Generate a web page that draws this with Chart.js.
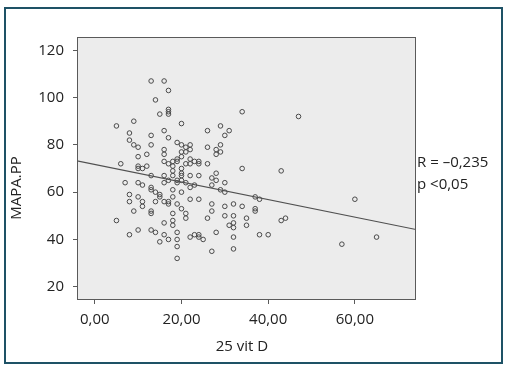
<!DOCTYPE html>
<html>
<head>
<meta charset="utf-8">
<script src="https://cdn.jsdelivr.net/npm/chart.js@4.4.1/dist/chart.umd.min.js"></script>
<style>
  body { margin: 0; background: #fff; }
  #wrap { position: relative; width: 513px; height: 370px; }
  #frame {
    position: absolute; left: 4px; top: 7px; width: 499px; height: 357px;
    box-sizing: border-box; border: 2px solid #1e5266; pointer-events: none;
  }
</style>
</head>
<body>
<div id="wrap">
  <canvas id="scatterChart" width="513" height="370"></canvas>
  <div id="frame"></div>
</div>
<script>
// 25 vit D (x) and MAPA.PP (y)
var vitD = [13, 16, 17, 14, 15, 17, 17, 17, 34, 47, 5, 9, 20, 29, 26, 31, 16, 8, 13, 30,
    17, 8, 9, 10, 13, 19, 20, 22, 21, 22, 21, 20, 16, 16, 26, 28, 29, 29, 28, 12,
    10, 20, 22, 19, 19, 16, 18, 23, 24, 24, 21, 22, 17, 18, 26, 6, 12, 10, 10, 11,
    20, 34, 43, 18, 20, 20, 28, 13, 16, 18, 22, 24, 27, 28, 17, 19, 20, 16, 19, 21,
    7, 10, 11, 30, 23, 22, 27, 13, 13, 14, 18, 29, 30, 20, 8, 15, 15, 18, 37, 38,
    60, 10, 22, 24, 8, 11, 14, 16, 17, 17, 19, 27, 32, 34, 30, 11, 20, 37, 37, 9,
    13, 13, 27, 18, 21, 21, 30, 32, 35, 26, 18, 5, 43, 44, 16, 32, 31, 35, 18, 32,
    10, 13, 14, 19, 28, 8, 16, 23, 24, 22, 24, 25, 32, 38, 40, 65, 17, 19, 15, 57,
    19, 32, 27, 19];
var mapaPP = [107, 107, 103, 99, 93, 95, 94, 93, 94, 92, 88, 90, 89, 88, 86, 86, 86, 85, 84, 84,
    83, 82, 80, 79, 80, 81, 80, 80, 79, 78, 77, 77, 78, 76, 79, 78, 80, 77, 76, 76,
    75, 75, 74, 74, 73, 73, 73, 73, 73, 72, 72, 72, 72, 71, 72, 72, 71, 71, 70, 70,
    70, 70, 69, 69, 68, 67, 68, 67, 67, 67, 67, 67, 66, 65, 65, 65, 65, 64, 64, 64,
    64, 64, 63, 64, 63, 62, 63, 62, 61, 60, 61, 61, 60, 60, 59, 59, 58, 58, 58, 57,
    57, 58, 57, 57, 56, 56, 56, 56, 56, 55, 55, 55, 55, 54, 54, 54, 53, 53, 52, 52,
    52, 51, 52, 51, 51, 49, 50, 50, 49, 49, 48, 48, 48, 49, 47, 47, 46, 46, 46, 45,
    44, 44, 43, 43, 43, 42, 42, 42, 42, 41, 41, 40, 41, 42, 42, 41, 40, 40, 39, 38,
    37, 36, 35, 32];

// fit line ends, read at the plot edges
var fitX = [-4.1, 74.1];
var fitY = [73.2, 44.2];

var xTicks = [0, 20, 40, 60];
var yTicks = [20, 40, 60, 80, 100, 120];

var points = vitD.map(function (v, i) { return { x: v, y: mapaPP[i] }; });
var fitLine = fitX.map(function (v, i) { return { x: v, y: fitY[i] }; });

var FONT = '"Open Sans", "Segoe UI", sans-serif';

// gray plot box, axis titles and the R / p note
var plotBox = {
    id: 'plotBox',
    beforeDatasetsDraw: function (chart) {
        var ctx = chart.ctx, a = chart.chartArea;
        ctx.save();
        ctx.fillStyle = '#ececec';
        ctx.fillRect(a.left, a.top, a.right - a.left, a.bottom - a.top);
        ctx.restore();
    },
    afterDraw: function (chart) {
        var ctx = chart.ctx, a = chart.chartArea;
        ctx.save();
        ctx.strokeStyle = '#5a5a5a';
        ctx.lineWidth = 1;
        ctx.strokeRect(a.left + 0.5, a.top + 0.5, a.right - a.left - 1, a.bottom - a.top - 1);

        ctx.fillStyle = '#222';
        ctx.font = '15px ' + FONT;
        ctx.textBaseline = 'middle';
        ctx.textAlign = 'center';
        ctx.fillText('25 vit D', 242, 347);

        ctx.save();
        ctx.translate(17, 188);
        ctx.rotate(-Math.PI / 2);
        ctx.fillText('MAPA.PP', 0, 0);
        ctx.restore();

        ctx.textAlign = 'left';
        ctx.fillText('R = \u20130,235', a.right + 1, 163);
        ctx.fillText('p <0,05', a.right + 1, 185);
        ctx.restore();
    }
};

var scatterConfig = {
    type: 'scatter',
    data: {
        datasets: [{
            type: 'line',
            data: fitLine,
            borderColor: '#505050',
            borderWidth: 1.2,
            pointRadius: 0,
            fill: false
        }, {
            data: points,
            pointStyle: 'circle',
            pointRadius: 2.3,
            borderWidth: 1,
            borderColor: '#4a4a4a',
            backgroundColor: 'rgba(0,0,0,0)'
        }]
    },
    options: {
        responsive: false,
        animation: false,
        layout: { padding: { left: 0, top: 37, right: 97, bottom: 0 } },
        plugins: { legend: { display: false }, tooltip: { enabled: false } },
        scales: {
            x: {
                type: 'linear',
                min: -4.1,
                max: 74.1,
                afterFit: function (scale) { scale.height = 70; },
                afterBuildTicks: function (scale) {
                    scale.ticks = xTicks.map(function (v) { return { value: v }; });
                },
                grid: { drawOnChartArea: false, drawTicks: true, tickLength: 4, color: '#5a5a5a' },
                border: { display: false },
                ticks: {
                    padding: 7,
                    color: '#222',
                    font: { family: FONT, size: 15 },
                    callback: function (v) { return v.toFixed(2).replace('.', ','); }
                }
            },
            y: {
                type: 'linear',
                min: 14.4,
                max: 125.6,
                afterFit: function (scale) { scale.width = 77; },
                afterBuildTicks: function (scale) {
                    scale.ticks = yTicks.map(function (v) { return { value: v }; });
                },
                grid: { drawOnChartArea: false, drawTicks: true, tickLength: 4, color: '#5a5a5a' },
                border: { display: false },
                ticks: {
                    padding: 9,
                    color: '#222',
                    font: { family: FONT, size: 15 }
                }
            }
        }
    },
    plugins: [plotBox]
};

var scatterChart = new Chart(document.getElementById('scatterChart'), scatterConfig);
</script>
</body>
</html>
